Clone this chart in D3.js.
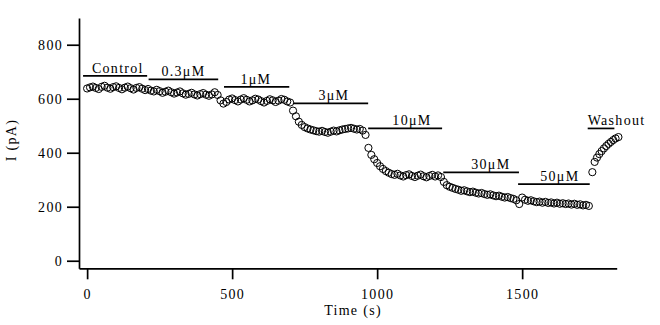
<!DOCTYPE html>
<html><head><meta charset="utf-8">
<script src="https://cdn.jsdelivr.net/npm/d3@7"></script>
<style>
body{margin:0;background:#fff}
text{font-family:"Liberation Serif","Times New Roman",serif;fill:#000;letter-spacing:1.3px}
</style>
</head><body>
<svg id="c" width="660" height="325"></svg>
<script>
// ---- data ----
const times=[0,10,20,30,40,50,60,70,80,90,100,110,120,130,140,150,160,170,180,190,200,
210,220,230,240,250,260,270,280,290,300,310,320,330,340,350,360,370,380,390,400,410,420,430,440,450,
460,470,480,490,500,510,520,530,540,550,560,570,580,590,600,610,620,630,640,650,660,670,680,690,700,
710,720,730,740,750,760,770,780,790,800,810,820,830,840,850,860,870,880,890,900,910,920,930,940,950,960,
970,980,990,1000,1010,1020,1030,1040,1050,1060,1070,1080,1090,1100,1110,1120,1130,1140,1150,1160,1170,1180,1190,1200,1210,1220,
1230,1240,1250,1260,1270,1280,1290,1300,1310,1320,1330,1340,1350,1360,1370,1380,1390,1400,1410,1420,1430,1440,1450,1460,1470,1480,1490,
1500,1510,1520,1530,1540,1550,1560,1570,1580,1590,1600,1610,1620,1630,1640,1650,1660,1670,1680,1690,1700,1710,1720,1730];
const current=[638,642,645,640,636,644,648,641,637,643,646,640,635,641,645,639,634,640,643,637,632,
636,630,627,633,628,622,626,630,624,619,623,627,620,615,618,622,616,612,617,621,615,611,616,624,614,
594,582,588,597,601,595,590,597,602,596,590,594,600,597,591,586,592,598,594,588,593,599,596,590,586,
556,535,515,503,495,490,486,483,480,478,481,477,474,478,482,479,483,486,488,490,492,489,486,488,482,466,
418,392,376,362,350,340,332,326,321,318,322,316,312,317,320,314,310,315,319,313,309,314,318,312,316,310,
292,280,274,270,266,263,259,261,257,254,256,252,249,251,247,244,246,242,239,241,237,234,236,232,229,224,210,
234,226,222,224,220,217,219,215,218,214,216,212,215,211,213,210,212,208,211,207,209,205,207,203];
const washTimes=[1742,1750,1758,1766,1774,1782,1790,1798,1806,1814,1822,1832];
const washCurrent=[328,366,382,395,406,416,425,433,440,447,453,458];

const drugs=["Control","0.3μM","1μM","3μM","10μM","30μM","50μM","Washout"];
const drugStart=[-14,212,472,710,969,1228,1486,1726];
const drugEnd=[207,452,697,969,1224,1489,1733,1818];
const drugLevel=[685,672,644,583,490,327,284,490];
const drugLabelT=[106,332,582,851,1120,1392,1630,1726];

const xTicks=[0,500,1000,1500];
const yTicks=[0,200,400,600,800];

// ---- chart ----
const svg=d3.select("#c");
const x=d3.scaleLinear().domain([-28,1826]).range([79,616.7]);
const y=d3.scaleLinear().domain([-28,899]).range([268.3,18]);

const xa=svg.append("g").attr("transform","translate(0,268.3)")
  .call(d3.axisBottom(x).tickValues(xTicks).tickFormat(d3.format("d")).tickSize(11).tickSizeOuter(0).tickPadding(10));
const ya=svg.append("g").attr("transform","translate(79,0)")
  .call(d3.axisLeft(y).tickValues(yTicks).tickFormat(d3.format("d")).tickSize(12).tickSizeOuter(0).tickPadding(4));
[xa,ya].forEach(g=>{
  g.selectAll("path,line").attr("stroke","#000").attr("stroke-width",1.7);
  g.selectAll("text").attr("font-size",14).attr("font-family",null);
});

svg.append("text").attr("x",353).attr("y",315).attr("text-anchor","middle").attr("font-size",14).text("Time (s)");
svg.append("text").attr("transform","translate(16,140) rotate(-90)").attr("text-anchor","middle").attr("font-size",14).text("I (pA)");

// drug bars
const bars=drugs.map((d,i)=>({name:d,t0:drugStart[i],t1:drugEnd[i],v:drugLevel[i],lt:drugLabelT[i]}));
svg.append("g").selectAll("line").data(bars).join("line")
  .attr("x1",d=>x(d.t0)).attr("x2",d=>x(d.t1))
  .attr("y1",d=>y(d.v)).attr("y2",d=>y(d.v))
  .attr("stroke","#000").attr("stroke-width",1.7);
svg.append("g").selectAll("text").data(bars).join("text")
  .attr("x",d=>x(d.lt)).attr("y",d=>y(d.v)-3)
  .attr("text-anchor",d=>d.name==="Washout"?"start":"middle")
  .attr("font-size",14).text(d=>d.name);

// points
const pts=times.map((t,i)=>({t,v:current[i]})).concat(washTimes.map((t,i)=>({t,v:washCurrent[i]})));
svg.append("g").selectAll("circle").data(pts).join("circle")
  .attr("cx",d=>x(d.t)).attr("cy",d=>y(d.v)).attr("r",3.6)
  .attr("fill","none").attr("stroke","#000").attr("stroke-width",1);
</script>
</body></html>
